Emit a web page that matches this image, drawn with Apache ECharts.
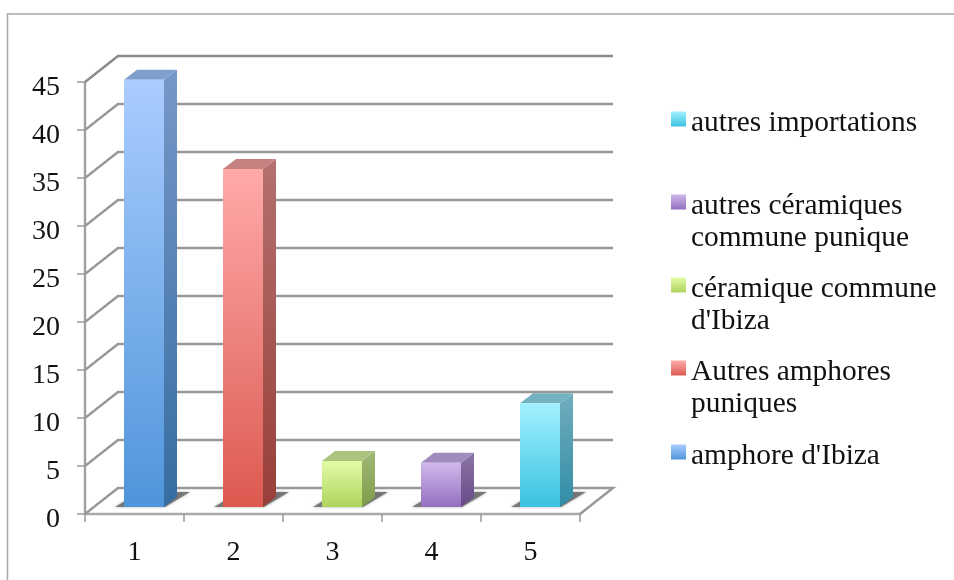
<!DOCTYPE html>
<html><head><meta charset="utf-8">
<style>html,body{margin:0;padding:0;background:#fff}#c{width:954px;height:580px}</style>
<script src="https://cdn.jsdelivr.net/npm/echarts@6/dist/echarts.min.js"></script>
</head><body><div id="c"></div>
<script>
const categories = ['1','2','3','4','5'];
const seriesNames = ["amphore d'Ibiza","Autres amphores\npuniques","céramique commune\nd'Ibiza","autres céramiques\ncommune punique","autres importations"];
const seriesValues = [44.5,35.2,4.8,4.6,10.8];
const yTicks = [0,5,10,15,20,25,30,35,40,45];

const palette = [
 {front:['#AACCFF','#4F95DA'],side:['#7698C8','#376DA2'],top:'#7F9FCF'},
 {front:['#FFAAAA','#DC5A50'],side:['#B57070','#983F38'],top:'#C58080'},
 {front:['#E2FCA6','#AFD45E'],side:['#A0B878','#7E9C48'],top:'#ABC480'},
 {front:['#CFB8EC','#9370BE'],side:['#8B75A6','#664A88'],top:'#A08ABF'},
 {front:['#A2F1FF','#3AC2E0'],side:['#72ADBD','#308DA6'],top:'#74B2C2'}
];
const FONT = '"Liberation Serif", serif';
const grad = c => new echarts.graphic.LinearGradient(0,0,0,1,[{offset:0,color:c[0]},{offset:1,color:c[1]}]);
// projection of the 3D view, in pixels
const DEPTH_X = 33, DEPTH_Y = 26;
const BAR_W = 40, BAR_DX = 13, BAR_DY = 10, BAR_SHIFT_X = 9.5, BAR_SHIFT_Y = 7;

function poly(points, style, z2){
  return {type:'polygon', shape:{points}, style, z2: z2||0, silent:true};
}
function renderBar(params, api){
  const idx = api.value(0), v = api.value(1), pal = palette[params.seriesIndex-1];
  const base = api.coord([idx,0]), top = api.coord([idx,v]);
  const xl = base[0]+BAR_SHIFT_X-BAR_W/2, xr = xl+BAR_W;
  const yb = base[1]-BAR_SHIFT_Y, yt = top[1]-BAR_SHIFT_Y;
  return {type:'group', children:[
    poly([[xl-9,yb],[xr+1,yb],[xr+26,yb-15],[xl+16,yb-15]],
      {fill:'rgba(100,100,100,0.8)',shadowBlur:3,shadowColor:'rgba(110,110,110,0.7)'},0),
    poly([[xr,yb],[xr+BAR_DX,yb-BAR_DY],[xr+BAR_DX,yt-BAR_DY],[xr,yt]],{fill:grad(pal.side)},1),
    poly([[xl,yt],[xr,yt],[xr+BAR_DX,yt-BAR_DY],[xl+BAR_DX,yt-BAR_DY]],{fill:pal.top},1),
    {type:'rect',shape:{x:xl,y:yt,width:BAR_W,height:yb-yt},style:{fill:grad(pal.front)},z2:2,silent:true}
  ]};
}
function renderWall(params, api){
  const cs = params.coordSys, v = api.value(1);
  const y = api.coord([0,v])[1], x0 = cs.x, x1 = cs.x+cs.width;
  const pts = [[x0,y],[x0+DEPTH_X,y-DEPTH_Y],[x1+DEPTH_X,y-DEPTH_Y]];
  if (v===0) pts.push([x1,y]);
  return {type:'polyline',shape:{points:pts},style:{fill:null,stroke:v===45?'#8a8a8a':'#989898',lineWidth:2.4},silent:true};
}
const legendTops = [441.5,357.5,274.5,191.5,108.5];
const series = [{type:'custom',name:'wall',renderItem:renderWall,z:1,silent:true,clip:false,
  data:yTicks.map(t=>[0,t]),encode:{x:0,y:1},tooltip:{show:false}}];
seriesNames.forEach((n,i)=>series.push({type:'custom',name:n,renderItem:renderBar,z:3,clip:false,
  data:[[i,seriesValues[i]]],encode:{x:0,y:1},itemStyle:{color:palette[i].front[1]}}));

const legends = seriesNames.map((n,i)=>({
  left:671, top:legendTops[i], orient:'vertical', selectedMode:false, padding:0,
  itemWidth:15, itemHeight:15, icon:'rect',
  data:[{name:n,icon:'rect',itemStyle:{color:grad(palette[i].front)}}],
  formatter:name=>name.split('\n').map(s=>'{t|'+s+'}').join('\n'),
  textStyle:{padding:n.includes('\n')?[40,0,0,0]:[8,0,0,0],
    rich:{t:{fontFamily:FONT,fontSize:29.4,lineHeight:32,color:'#111'}}}
}));

const chart = echarts.init(document.getElementById('c'),null,{renderer:'canvas'});
chart.setOption({
  animation:false, backgroundColor:'#fff',
  graphic:[{type:'polyline',shape:{points:[[7.5,580],[7.5,14],[954,14]]},style:{fill:null,stroke:'#a8a8a8',lineWidth:1.5},silent:true}],
  legend:legends,
  grid:{left:85,top:82,width:495,height:432},
  xAxis:{type:'category',data:categories,boundaryGap:true,
    axisLine:{lineStyle:{color:'#aaaaaa',width:2.4}},
    axisTick:{show:true,length:8,lineStyle:{color:'#9a9a9a',width:1.5}},
    axisLabel:{fontFamily:FONT,fontSize:28,color:'#111',margin:25},splitLine:{show:false}},
  yAxis:{type:'value',min:0,max:45,interval:5,
    axisLine:{show:true,lineStyle:{color:'#a0a0a0',width:2.4}},
    axisTick:{show:true,length:8,lineStyle:{color:'#9a9a9a',width:1.5}},
    axisLabel:{margin:25,padding:[12,0,0,0],formatter:'{v|{value}}',
      rich:{v:{fontFamily:FONT,fontSize:28,color:'#111'}}},splitLine:{show:false}},
  series
});
</script></body></html>
